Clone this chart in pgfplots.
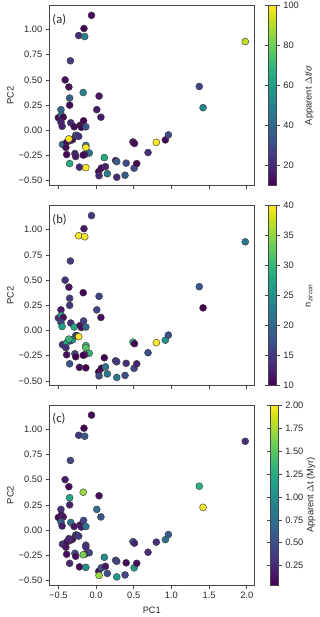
\documentclass[border=0pt]{standalone}
\usepackage{pgfplots}
\pgfplotsset{compat=1.18}
\usepackage{pgfplotstable}
\usepackage{fontspec}
\setmainfont{Liberation Sans}
\newfontfamily\lblfont{Carlito}
\newcommand\tk{\fontsize{9.3}{11}\selectfont}

% x y  colour values for panels a, b, c
\pgfplotstableread{
x      y      a    b   c
-0.06  1.14   12   15  0.08
-0.16  1.01   11   12  0.06
-0.23  0.94   22   40  0.35
-0.15  0.93   50   40  0.60
-0.34  0.69   25   15  0.45
-0.41  0.50   13   14  0.18
-0.36  0.43   11   11  0.06
-0.35  0.32   38   15  1.20
-0.17  0.375  50   10  1.70
-0.35  0.25   12   15  0.20
0.04   0.34   15   16  0.10
0.01   0.205  16   16  0.75
0.065  0.13   16   11  0.55
-0.50  0.125  11   14  0.06
-0.465 0.205  38   12  0.30
-0.46  0.15   42   28  0.10
-0.435 0.13   11   11  0.15
-0.465 0.08   18   16  0.65
-0.45  0.04   18   27  0.20
-0.335 0.075  20   14  0.80
-0.29  0.035  11   28  0.15
-0.21  0.05   11   10  0.10
-0.165 0.095  11   16  0.45
-0.195 0.03   11   11  0.15
-0.135 0.035  36   20  0.80
-0.445 -0.14  42   14  0.30
-0.39  -0.12  12   28  0.10
-0.40  -0.17  12   14  0.12
-0.335 -0.10  13   16  0.10
-0.31  -0.09  12   26  0.15
-0.27  -0.05  25   28  0.20
-0.255 -0.05  30   14  0.30
-0.23  -0.06  22   40  0.35
-0.36  -0.085 100  30  0.25
-0.135 -0.15  45   30  0.35
-0.135 -0.17  100  32  0.30
-0.09  -0.225 45   30  0.45
-0.39  -0.24  11   11  0.10
-0.28  -0.23  18   16  0.50
-0.27  -0.26  16   10  0.10
-0.15  -0.24  14   12  0.20
-0.17  -0.245 11   10  1.60
-0.35  -0.33  65   18  0.25
-0.22  -0.365 20   11  0.10
-0.135 -0.37  100  10  1.00
0.11   -0.27  65   10  1.00
0.035  -0.41  11   10  0.10
0.07   -0.375 12   10  0.50
0.125  -0.36  18   22  0.15
0.04   -0.45  20   17  1.70
0.15   -0.43  47   22  0.50
0.26   -0.30  12   13  0.40
0.275  -0.31  35   15  0.45
0.275  -0.465 20   22  1.10
0.40   -0.325 30   14  0.08
0.385  -0.445 36   17  0.45
0.49   -0.115 16   30  0.55
0.51   -0.13  11   10  0.22
0.505  -0.375 30   16  1.10
0.54   -0.33  11   13  0.10
0.69   -0.22  22   17  0.28
0.80   -0.12  100  40  0.30
0.92   -0.095 12   25  0.75
0.96   -0.045 30   17  0.60
1.37   0.435  28   18  1.30
1.42   0.225  52   10  2.00
1.98   0.88   92   22  0.30
}\pts

\pgfplotsset{
  pc/.style={
    scale only axis, width=205pt, height=180pt,
    xmin=-0.62, xmax=2.10, ymin=-0.545, ymax=1.24,
    axis line style={black!72, line width=0.6pt},
    xtick={-0.5,0,0.5,1,1.5,2}, ytick={-0.5,-0.25,0,0.25,0.5,0.75,1},
    yticklabels={−0.50,−0.25,0.00,0.25,0.50,0.75,1.00},
    xtick pos=bottom, ytick pos=left,
    tick align=outside, major tick length=3.5pt,
    tick style={black!72, line width=0.6pt},
    ticklabel style={font=\tk, text=black!85},
    ylabel={PC2},
    every axis y label/.style={at={(axis description cs:-0.19,0.5)}, rotate=90, anchor=center, font=\tk, text=black!85},
    every axis x label/.style={at={(axis description cs:0.5,0)}, yshift=-25pt, anchor=center, font=\tk, text=black!85},
    colormap name=viridis,
    colorbar,
    colorbar shift/.style={xshift=13.7pt},
    every colorbar/.append style={
      width=8pt,
      axis line style={black!72, line width=0.6pt},
      tick align=outside, major tick length=3.5pt,
      tick style={black!72, line width=0.6pt},
      ticklabel style={font=\tk, text=black!85},
      every axis y label/.style={at={(axis description cs:5.1,0.5)}, rotate=90, anchor=center, font=\tk, text=black!85},
    },
  },
  dots/.style={scatter, only marks, mark=*, mark size=3.5pt,
    mark options={line width=0.45pt},
    scatter/use mapped color={draw=black!75, fill=mapped color}},
}
\tikzset{plab/.style={anchor=north west, inner sep=0, font=\lblfont\fontsize{12.5}{14}\selectfont, text=black!85, xshift=3pt, yshift=-8.5pt}}

\begin{document}
\begin{tikzpicture}
\useasboundingbox (0pt,0pt) rectangle (320pt,-617pt);
% (a)
\begin{axis}[pc, at={(49.3pt,-5.3pt)}, anchor=north west,
  xticklabels={},
  point meta min=10, point meta max=100,
  colorbar style={ytick={20,40,60,80,100}, yticklabels={20,40,60,80,100},
    ylabel={Apparent $\Delta$\textit{t}/\textit{σ}}},
]
\addplot[dots, point meta=\thisrow{a}] table[x=x, y=y] {\pts};
\node[plab] at (rel axis cs:0,1) {(a)};
\end{axis}
% (b)
\begin{axis}[pc, at={(49.3pt,-205.5pt)}, anchor=north west,
  xticklabels={},
  point meta min=10, point meta max=40,
  colorbar style={ytick={10,15,20,25,30,35,40}, yticklabels={10,15,20,25,30,35,40},
    ylabel={n\textsubscript{\textit{zircon}}}},
]
\addplot[dots, point meta=\thisrow{b}] table[x=x, y=y] {\pts};
\node[plab] at (rel axis cs:0,1) {(b)};
\end{axis}
% (c)
\begin{axis}[pc, at={(49.3pt,-405pt)}, anchor=north west,
  xticklabels={−0.5,0.0,0.5,1.0,1.5,2.0},
  xlabel={PC1},
  point meta min=0.04, point meta max=2.0,
  colorbar style={ytick={0.25,0.5,0.75,1,1.25,1.5,1.75,2},
    yticklabels={0.25,0.50,0.75,1.00,1.25,1.50,1.75,2.00},
    ylabel={Apparent $\Delta$t (Myr)}},
]
\addplot[dots, point meta=\thisrow{c}] table[x=x, y=y] {\pts};
\node[plab] at (rel axis cs:0,1) {(c)};
\end{axis}
\end{tikzpicture}
\end{document}
